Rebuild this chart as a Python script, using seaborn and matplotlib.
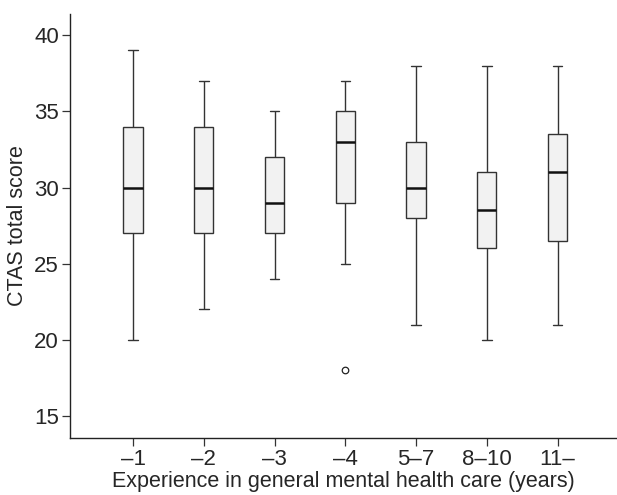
import pandas as pd
import matplotlib
matplotlib.use("Agg")
import matplotlib.pyplot as plt
import seaborn as sns


## DATOS ##

categorias = ["\u20131", "\u20132", "\u20133", "\u20134", "5\u20137", "8\u201310", "11\u2013"]
bigote_inf = [20, 22, 24, 25, 21, 20, 21]
q1 = [27, 27, 27, 29, 28, 26, 26.5]
mediana = [30, 30, 29, 33, 30, 28.5, 31]
q3 = [34, 34, 32, 35, 33, 31, 33.5]
bigote_sup = [39, 37, 35, 37, 38, 38, 38]

outlier_cat = ["\u20134"]
outlier_val = [18]


## TABLA LARGA: resumen de cinco números por grupo ##

filas = []
for i, c in enumerate(categorias):
    for v in (bigote_inf[i], q1[i], mediana[i], q3[i], bigote_sup[i]):
        filas.append({"grupo": c, "score": v})
df = pd.DataFrame(filas)
df_out = pd.DataFrame({"grupo": outlier_cat, "score": outlier_val})


## GRÁFICO ##

sns.set_style("ticks")
plt.rcParams['font.family'] = ['Liberation Sans', 'DejaVu Sans']

fig = plt.figure(figsize=(6.17, 4.95), dpi=100)
ax = fig.add_axes([0.1135, 0.1158, 0.8865, 0.856])

linea = "#333333"
sns.boxplot(
    data=df, x="grupo", y="score", order=categorias,
    whis=(0, 100), showfliers=False, width=0.27,
    color="#f2f2f2", linecolor=linea, linewidth=1.0,
    medianprops=dict(color="#111111", linewidth=1.8),
    capprops=dict(color=linea, linewidth=1.0),
    ax=ax,
)

# punto atípico del grupo -4
sns.scatterplot(
    data=df_out, x="grupo", y="score", ax=ax,
    marker="o", s=22, facecolor="white", edgecolor="#222222", linewidth=0.9,
    zorder=5,
)

ax.set_xlim(-0.89, 6.84)
ax.set_ylim(13.57, 41.4)
ax.set_yticks([15, 20, 25, 30, 35, 40])

ax.set_xlabel("Experience in general mental health care (years)", fontsize=15.5, labelpad=1)
ax.set_ylabel("CTAS total score", fontsize=15.5, labelpad=4)
ax.tick_params(axis="both", labelsize=16, length=6, width=0.9, color="#333333",
               direction="out", pad=2)

for s in ["top", "right"]:
    ax.spines[s].set_visible(False)
for s in ["left", "bottom"]:
    ax.spines[s].set_color("#222222")
    ax.spines[s].set_linewidth(1.0)

plt.savefig("out.png", dpi=100)
